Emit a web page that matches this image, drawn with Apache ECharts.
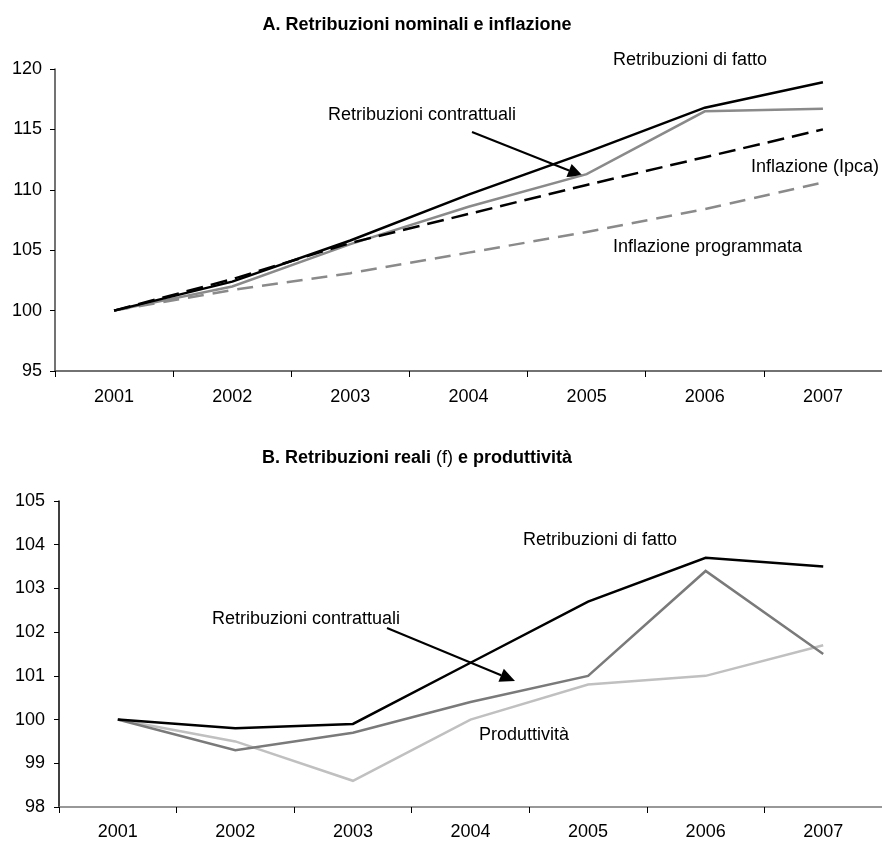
<!DOCTYPE html>
<html><head><meta charset="utf-8">
<script src="https://cdn.jsdelivr.net/npm/echarts@6/dist/echarts.min.js"></script>
<style>html,body{margin:0;padding:0;background:#fff}#c{width:882px;height:841px}</style>
</head><body><div id="c"></div>
<script>
// ---- data ----
const years = ['2001', '2002', '2003', '2004', '2005', '2006', '2007'];
// Panel A: Retribuzioni nominali e inflazione
const nomFatto = [100, 102.4, 105.8, 109.6, 113.1, 116.8, 118.9];
const nomContrattuali = [100, 102.0, 105.5, 108.6, 111.3, 116.5, 116.7];
const inflIpca = [100, 102.6, 105.6, 108.0, 110.4, 112.7, 115.0];
const inflProgrammata = [100, 101.7, 103.1, 104.8, 106.5, 108.4, 110.6];
// Panel B: Retribuzioni reali (f) e produttività
const realFatto = [100, 99.8, 99.9, 101.3, 102.7, 103.7, 103.5];
const realContrattuali = [100, 99.3, 99.7, 100.4, 101.0, 103.4, 101.5];
const produttivita = [100, 99.5, 98.6, 100.0, 100.8, 101.0, 101.7];
// axis scales
const yA = { min: 95, max: 120, interval: 5 };
const yB = { min: 98, max: 105, interval: 1 };

const FONT = '"Liberation Sans", Arial, sans-serif';
const chart = echarts.init(document.getElementById('c'), null, { renderer: 'canvas' });

function line(name, data, idx, color, width, type) {
  return {
    name, type: 'line', data, xAxisIndex: idx, yAxisIndex: idx,
    showSymbol: false, symbol: 'none', silent: true,
    lineStyle: { color, width, type: type || 'solid', cap: 'butt', join: 'miter' }
  };
}
function xAx(idx, color, margin) {
  return {
    type: 'category', gridIndex: idx, data: years, boundaryGap: true,
    axisLine: { lineStyle: { color, width: 1.5 } },
    axisTick: { show: true, length: 6, interval: 0, lineStyle: { color: '#000', width: 1 } },
    axisLabel: { color: '#000', fontSize: 18, fontFamily: FONT, margin, interval: 0 },
    splitLine: { show: false }
  };
}
function yAx(idx, s, color, margin) {
  return {
    type: 'value', gridIndex: idx, min: s.min, max: s.max, interval: s.interval,
    axisLine: { show: true, lineStyle: { color, width: 1.5 } },
    axisTick: { show: true, length: 5, lineStyle: { color: '#000', width: 1 } },
    axisLabel: { color: '#000', fontSize: 18, fontFamily: FONT, margin },
    splitLine: { show: false }
  };
}
function txt(x, y, text, align) {
  return { type: 'text', x, y, style: { text, fill: '#000', font: '18px ' + FONT, align: align || 'left', verticalAlign: 'middle' } };
}
function arrow(x1, y1, x2, y2) {
  const dx = x2 - x1, dy = y2 - y1, L = Math.hypot(dx, dy);
  const ux = dx / L, uy = dy / L, hl = 15, hw = 7;
  const bx = x2 - ux * hl, by = y2 - uy * hl;
  return [
    { type: 'line', shape: { x1, y1, x2: bx, y2: by }, style: { stroke: '#000', lineWidth: 2 } },
    { type: 'polygon', shape: { points: [[x2, y2], [bx - uy * hw, by + ux * hw], [bx + uy * hw, by - ux * hw]] }, style: { fill: '#000' } }
  ];
}

chart.setOption({
  animation: false,
  backgroundColor: '#fff',
  textStyle: { fontFamily: FONT },
  grid: [
    { left: 55, top: 69, width: 830, height: 302 },
    { left: 59, top: 501, width: 825, height: 306 }
  ],
  xAxis: [xAx(0, '#444', 17), xAx(1, '#777', 16)],
  yAxis: [yAx(0, yA, '#444', 13), yAx(1, yB, '#000', 14)],
  series: [
    line('Inflazione programmata', inflProgrammata, 0, '#8a8a8a', 2.5, [16, 9]),
    line('Retribuzioni contrattuali', nomContrattuali, 0, '#8a8a8a', 2.5),
    line('Retribuzioni di fatto', nomFatto, 0, '#000', 2.5),
    line('Inflazione (Ipca)', inflIpca, 0, '#000', 2.5, [17, 8]),
    line('Produttività', produttivita, 1, '#c0c0c0', 2.5),
    line('Retribuzioni contrattuali', realContrattuali, 1, '#7a7a7a', 2.5),
    line('Retribuzioni di fatto', realFatto, 1, '#000', 2.5)
  ],
  graphic: [
    { type: 'text', x: 417, y: 25, style: { text: 'A. Retribuzioni nominali e inflazione', fill: '#000', font: 'bold 18px ' + FONT, align: 'center', verticalAlign: 'middle' } },
    { type: 'text', x: 417, y: 458, style: {
        text: '{b|B. Retribuzioni reali }{n|(f)}{b| e produttività}', align: 'center', verticalAlign: 'middle',
        rich: { b: { font: 'bold 18px ' + FONT, fill: '#000' }, n: { font: '18px ' + FONT, fill: '#000' } } } },
    txt(613, 60, 'Retribuzioni di fatto'),
    txt(328, 115, 'Retribuzioni contrattuali'),
    txt(751, 167, 'Inflazione (Ipca)'),
    txt(613, 247, 'Inflazione programmata'),
    ...arrow(472, 132, 583, 176),
    txt(523, 540, 'Retribuzioni di fatto'),
    txt(212, 619, 'Retribuzioni contrattuali'),
    txt(479, 735, 'Produttività'),
    ...arrow(387, 628, 515, 681)
  ]
});
</script></body></html>
